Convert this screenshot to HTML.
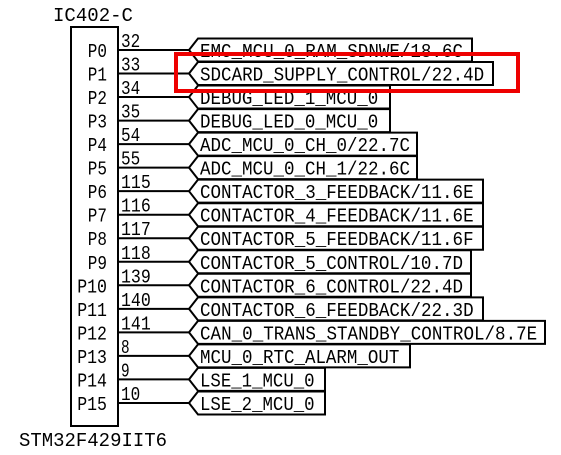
<!DOCTYPE html>
<html><head><meta charset="utf-8"><style>
html,body{margin:0;padding:0;background:#fff;}
svg{display:block;}
text{font-family:"Liberation Mono","DejaVu Sans Mono",monospace;font-size:19px;fill:#000;}
</style></head><body>
<svg width="561" height="455" viewBox="0 0 561 455" xmlns="http://www.w3.org/2000/svg">
<text x="53" y="21" textLength="80" lengthAdjust="spacingAndGlyphs">IC402-C</text>
<rect x="71" y="27" width="47" height="399" fill="none" stroke="#000" stroke-width="2"/>
<text x="19" y="446" textLength="148" lengthAdjust="spacingAndGlyphs">STM32F429IIT6</text>
<g id="rows"></g>
<rect x="176" y="54" width="342" height="37" fill="none" stroke="#e00" stroke-width="4"/>
</svg>
<script>
var rows=[["P0","32","EMC_MCU_0_RAM_SDNWE/18.6C",472],["P1","33","SDCARD_SUPPLY_CONTROL/22.4D",493],["P2","34","DEBUG_LED_1_MCU_0",390],["P3","35","DEBUG_LED_0_MCU_0",390],["P4","54","ADC_MCU_0_CH_0/22.7C",417],["P5","55","ADC_MCU_0_CH_1/22.6C",417],["P6","115","CONTACTOR_3_FEEDBACK/11.6E",483],["P7","116","CONTACTOR_4_FEEDBACK/11.6E",483],["P8","117","CONTACTOR_5_FEEDBACK/11.6F",483],["P9","118","CONTACTOR_5_CONTROL/10.7D",471],["P10","139","CONTACTOR_6_CONTROL/22.4D",471],["P11","140","CONTACTOR_6_FEEDBACK/22.3D",483],["P12","141","CAN_0_TRANS_STANDBY_CONTROL/8.7E",545],["P13","8","MCU_0_RTC_ALARM_OUT",410],["P14","9","LSE_1_MCU_0",325],["P15","10","LSE_2_MCU_0",325]];
var ns="http://www.w3.org/2000/svg",g=document.getElementById("rows");
function el(t,a,txt){var e=document.createElementNS(ns,t);for(var k in a)e.setAttribute(k,a[k]);if(txt!=null)e.textContent=txt;g.appendChild(e);return e;}
rows.forEach(function(r,i){var y=50+i*23.53;
el("line",{x1:118,y1:y,x2:189,y2:y,stroke:"#000","stroke-width":2});
el("polygon",{points:"189,"+y+" 198,"+(y-11.5)+" "+r[3]+","+(y-11.5)+" "+r[3]+","+(y+11.5)+" 198,"+(y+11.5),fill:"#fff",stroke:"#000","stroke-width":2});
el("text",{x:200,y:y+7,textLength:r[2].length*10.6-2,lengthAdjust:"spacingAndGlyphs"},r[2]);
el("text",{x:121,y:y-3,textLength:r[1].length*10.6-2,lengthAdjust:"spacingAndGlyphs"},r[1]);
el("text",{x:109-r[0].length*10.6,y:y+7,textLength:r[0].length*10.6-2,lengthAdjust:"spacingAndGlyphs"},r[0]);
});
</script>
</body></html>
